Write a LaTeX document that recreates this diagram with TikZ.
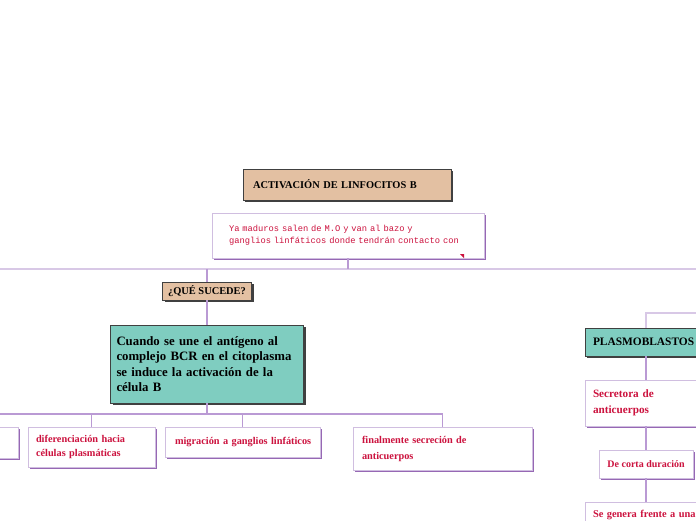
\documentclass[tikz,border=0pt]{standalone}
\usepackage{fontspec}
\setmainfont{Liberation Serif}
\setmonofont{Liberation Mono}
\usetikzlibrary{positioning, shadows, calc}
\definecolor{tituloTan}{RGB}{227,192,162}
\definecolor{cajaTeal}{RGB}{127,205,192}
\definecolor{lineaLila}{RGB}{216,200,230}
\definecolor{lineaMedia}{RGB}{186,154,212}
\definecolor{bordeLila}{RGB}{208,190,224}
\definecolor{sombraLila}{RGB}{150,104,180}
\definecolor{textoRojo}{RGB}{204,18,62}
\tikzset{
  titulo/.style={rectangle, draw=black!75, fill=tituloTan, align=left, font=\bfseries,
    drop shadow={shadow xshift=2pt, shadow yshift=-2pt, fill=black!75, opacity=1}},
  tema/.style={rectangle, draw=black!75, fill=cajaTeal, align=left, font=\bfseries,
    drop shadow={shadow xshift=2pt, shadow yshift=-2pt, fill=black!75, opacity=1}},
  hoja/.style={rectangle, draw=bordeLila, fill=white, align=left, text=textoRojo,
    drop shadow={shadow xshift=1.6pt, shadow yshift=-1.6pt, fill=sombraLila, opacity=1}},
  conector/.style={line width=1.3pt, lineaMedia},
  conectorClaro/.style={line width=1.5pt, lineaLila}
}

\begin{document}
\begin{tikzpicture}[x=1pt, y=-1pt]
  \useasboundingbox (0,0) rectangle (696,520);
  \clip (0,0) rectangle (696,520);

  % Titulo y nota de entrada
  \node[titulo, minimum width=208pt, minimum height=31pt, text width=188pt, inner xsep=10pt,
    font=\bfseries\fontsize{10.4}{12}\selectfont] (titulo) at (347,184.5) {ACTIVACIÓN DE LINFOCITOS B};
  \node[hoja, minimum width=272pt, minimum height=45pt, text width=250pt, inner xsep=11pt,
    font=\ttfamily\fontsize{8.75}{12}\selectfont] (nota) at (348,235.5)
    {\hspace*{6pt}Ya maduros salen de M.O y van al bazo y\\\hspace*{6pt}ganglios linfáticos donde tendrán contacto con};
  \fill[textoRojo] ([xshift=-20pt, yshift=4pt]nota.south east) -- ++(0,4) -- ++(-4,-4) -- cycle;

  % Ramas principales
  \coordinate (bordeIzq) at (0,269);
  \coordinate (bordeDer) at (696,269);
  \draw[conectorClaro] (bordeIzq) -- (bordeDer);
  \draw[conector] (nota.south) -- (nota.south |- bordeIzq);

  \node[titulo, minimum width=89pt, minimum height=18pt, inner xsep=4pt, inner ysep=1pt,
    font=\bfseries\fontsize{10.4}{12}\selectfont] (sucede) at (207,291) {¿QUÉ SUCEDE?};
  \node[tema, minimum width=193pt, minimum height=78pt, text width=181pt, inner xsep=6pt,
    font=\bfseries\fontsize{12.8}{15.5}\selectfont] (union) at (207,364)
    {Cuando se une el antígeno al\\complejo BCR en el citoplasma\\se induce la activación de la\\célula B};
  \draw[conector] (bordeIzq -| sucede) -- (sucede.north);
  \draw[conector] (sucede.south) -- (union.north);

  % Consecuencias
  \node[hoja, minimum width=136pt, minimum height=31pt] (previa) at (-50,442.5) {};
  \node[hoja, minimum width=127pt, minimum height=40pt, text width=117pt, inner xsep=5pt,
    font=\bfseries\fontsize{10.3}{14}\selectfont] (diferencia) at (91.5,447) {\hspace*{3pt}diferenciación hacia\\\hspace*{3pt}células plasmáticas};
  \node[hoja, minimum width=155pt, minimum height=30pt, text width=145pt, inner xsep=5pt,
    font=\bfseries\fontsize{10.3}{14}\selectfont] (migracion) at (242.5,442) {\hspace*{5pt}migración a ganglios linfáticos};
  \node[hoja, minimum width=179pt, minimum height=43pt, text width=169pt, inner xsep=5pt,
    font=\bfseries\fontsize{10.3}{16}\selectfont] (secrecion) at (442.5,448.5) {\hspace*{4pt}finalmente secreción de\\\hspace*{4pt}anticuerpos};
  \coordinate (rama) at (0,414);
  \draw[conector] (union.south) -- (union.south |- rama);
  \draw[conector] (rama) -- (rama -| secrecion);
  \draw[conector] (rama -| diferencia) -- (diferencia.north);
  \draw[conector] (rama -| migracion) -- (migracion.north);
  \draw[conector] (rama -| secrecion) -- (secrecion.north);

  % Plasmoblastos
  \coordinate (ramaDer) at (696,313);
  \node[tema, minimum width=122pt, minimum height=28pt, text width=114pt, inner xsep=4pt,
    font=\bfseries\fontsize{11.4}{13}\selectfont] (plasmo) at (646,342) {\hspace*{4pt}PLASMOBLASTOS};
  \node[hoja, minimum width=122pt, minimum height=46pt, text width=114pt, inner xsep=4pt,
    font=\bfseries\fontsize{11.2}{16}\selectfont] (secretora) at (646,403) {\hspace*{4pt}Secretora de\\\hspace*{4pt}anticuerpos};
  \node[hoja, minimum width=94pt, minimum height=28pt, inner xsep=6pt,
    font=\bfseries\fontsize{10}{12}\selectfont] (corta) at (646,464) {De corta duración};
  \node[hoja, minimum width=122pt, text width=118pt, inner xsep=2pt, inner ysep=8pt,
    anchor=north, font=\bfseries\fontsize{10.4}{16}\selectfont] (genera) at (646,502) {\hspace*{6pt}Se genera frente a una\\\strut};
  \draw[conectorClaro] (ramaDer) -| (plasmo.north);
  \draw[conector] (plasmo.south) -- (secretora.north);
  \draw[conector] (secretora.south) -- (corta.north);
  \draw[conector] (corta.south) -- (genera.north);
\end{tikzpicture}
\end{document}
